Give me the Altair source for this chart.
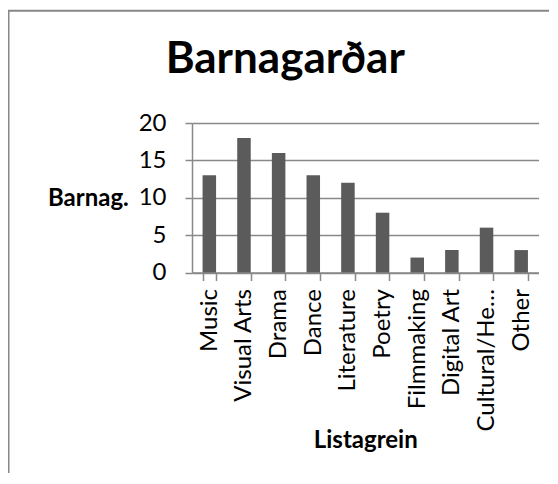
import altair as alt
import pandas as pd

categories = ["Music", "Visual Arts", "Drama", "Dance", "Literature", "Poetry",
              "Filmmaking", "Digital Art", "Cultural/He…", "Other"]
values = [13, 18, 16, 13, 12, 8, 2, 3, 6, 3]
y_ticks = [0, 5, 10, 15, 20]
title_text = "Barnagarðar"
x_title = "Listagrein"
y_title = "Barnag."

df = pd.DataFrame({"cat": categories, "val": values})

W = 346.5
H = 149.5
FONT = "Lato"
GRID = "#898989"
BAR = "#5b5b5b"

bars = alt.Chart(df).mark_bar(color=BAR).encode(
    x=alt.X(
        "cat:N", sort=categories, title=x_title,
        scale=alt.Scale(paddingInner=0.61, paddingOuter=0.305),
        axis=alt.Axis(
            labelAngle=270, labelAlign="right", labelBaseline="middle",
            labelPadding=8, labelFontSize=24, labelFont=FONT, labelColor="black",
            labelOverlap=False, labelLimit=300,
            tickBand="extent", tickSize=8, tickColor=GRID, tickWidth=1.5,
            domainColor=GRID, domainWidth=1.5, grid=False,
            titleFont=FONT, titleFontSize=24, titleFontWeight="bold", titleColor="black",
            titleX=W / 2, titleY=175.2, titleBaseline="alphabetic", titleAlign="center",
        ),
    ),
    y=alt.Y(
        "val:Q", title=y_title,
        scale=alt.Scale(domain=[0, 20], nice=False),
        axis=alt.Axis(
            values=y_ticks, labelFontSize=24, labelFont=FONT, labelColor="black",
            labelPadding=19, tickSize=7, tickColor=GRID, tickWidth=1.5,
            domainColor=GRID, domainWidth=1.5,
            grid=True, gridColor=GRID, gridWidth=1.5,
            titleFont=FONT, titleFontSize=24, titleFontWeight="bold", titleColor="black",
            titleAngle=0, titleAlign="right", titleBaseline="alphabetic",
            titleX=-63.7, titleY=82,
        ),
    ),
)

border = alt.Chart(alt.Data(values=[{"k": 1}])).mark_rect(
    fill="transparent", stroke="#878787", strokeWidth=2
).encode(
    x=alt.value(-183.5), x2=alt.value(500), y=alt.value(-112.3), y2=alt.value(500)
)

chart = alt.layer(bars, border).properties(
    width=W, height=H,
    padding={"left": 184, "top": 115, "right": 10, "bottom": 200},
    autosize=alt.AutoSizeParams(type="none"),
    title=alt.TitleParams(
        title_text, font=FONT, fontSize=44, fontWeight="bold", color="black",
        anchor="middle", frame="group", dx=-80, dy=107, baseline="alphabetic", offset=0,
    ),
).configure_view(strokeWidth=0)

chart.save("out.html", embed_options={"renderer": "svg", "actions": False})
